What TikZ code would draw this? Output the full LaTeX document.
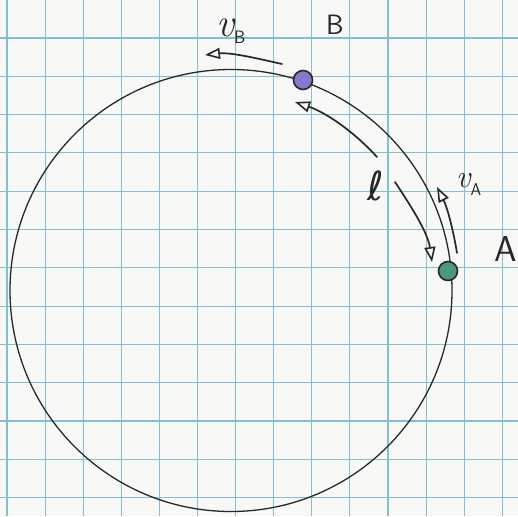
\documentclass[tikz,border=0pt]{standalone}
\usepackage{fontspec}
\newfontfamily\symfont{DejaVu Sans}
\usetikzlibrary{arrows.meta}
\definecolor{gridc}{RGB}{135,190,206}
\definecolor{paper}{RGB}{248,249,247}
\definecolor{ink}{RGB}{40,40,40}
\definecolor{dotB}{RGB}{132,122,205}
\definecolor{dotA}{RGB}{78,152,128}
\begin{document}
\begin{tikzpicture}[x=1pt,y=-1pt,
  gridline/.style={draw=gridc, line width=1.1pt},
  orbitline/.style={circle, draw=ink, line width=1.3pt, inner sep=0pt},
  particle/.style={circle, draw=ink, line width=1.6pt, minimum size=19pt, inner sep=0pt},
  hand/.style={draw=ink, line width=1.7pt, line cap=round,
    -{Triangle[open, length=15pt, width=11pt, line width=1.6pt]}},
  lbl/.style={text=ink, inner sep=0pt}]
\fill[paper] (0,0) rectangle (518,516);
\useasboundingbox (0,0) rectangle (518,516);
\foreach \i in {0,...,13} \draw[gridline] ({7+38.1*\i},0) -- ({7+38.1*\i},516);
\foreach \j in {1,...,13} \draw[gridline] (0,{38.3*\j-0.3}) -- (518,{38.3*\j-0.3});
% orbit
\node[orbitline, minimum size=442pt] (orbit) at (231,290.5) {};
% particles
\node[particle, fill=dotB] (B) at (303,80) {};
\node[particle, fill=dotA] (A) at (448,271) {};
% arrow end points
\coordinate (vBs) at (282,64);
\coordinate (vBe) at (205,55);
\coordinate (l1s) at (377,157);
\coordinate (l1e) at (295,102);
\coordinate (l2s) at (395,182);
\coordinate (l2e) at (432,262);
\coordinate (vAs) at (457,253);
\coordinate (vAe) at (437,187);
% arrows
\draw[hand] (vBs) .. controls (256.7,58.3) and (230.7,52.2) .. (vBe);
\draw[hand] (l1s) .. controls (354.4,132.2) and (326.7,112.8) .. (l1e);
\draw[hand] (l2s) .. controls (411.4,206.8) and (427.8,232.6) .. (l2e);
\draw[hand] (vAs) .. controls (453.2,230.1) and (447.4,207.7) .. (vAe);
% labels
\node[lbl] (labB) at (335,25) {\fontsize{28}{28}\selectfont\sffamily B};
\node[lbl] (labA) at (506,249) {\fontsize{36}{36}\selectfont\sffamily A};
\node[lbl, anchor=base west] (labvB) at (216,37) {\fontsize{40}{40}\selectfont\itshape v\raisebox{-7pt}{\fontsize{18}{18}\selectfont\upshape\sffamily B}};
\node[lbl, anchor=base west] (labvA) at (456,187) {\fontsize{32}{32}\selectfont\itshape v\raisebox{-8pt}{\fontsize{17}{17}\selectfont\upshape\sffamily A}};
\node[lbl] (labl) at (376,186) {\fontsize{40}{40}\selectfont\symfont ℓ};
\end{tikzpicture}
\end{document}
